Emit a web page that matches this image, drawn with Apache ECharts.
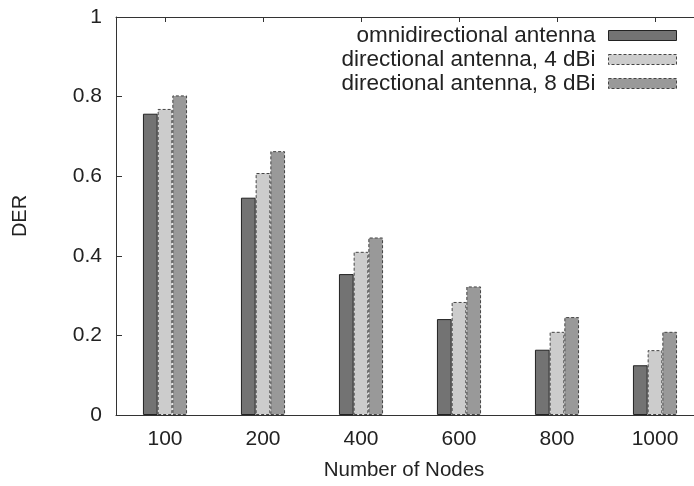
<!DOCTYPE html>
<html>
<head>
<meta charset="utf-8">
<script src="https://cdn.jsdelivr.net/npm/echarts@6/dist/echarts.min.js"></script>
<style>html,body{margin:0;padding:0;background:#fff;overflow:hidden;width:694px;height:486px;}#c{width:704px;height:486px;}</style>
</head>
<body>
<div id="c"></div>
<script>
var categories = ['100', '200', '400', '600', '800', '1000'];
var omni = [0.757, 0.546, 0.354, 0.241, 0.164, 0.125];
var dir4 = [0.769, 0.608, 0.410, 0.284, 0.209, 0.163];
var dir8 = [0.803, 0.663, 0.446, 0.323, 0.246, 0.209];
var seriesNames = ['omnidirectional antenna', 'directional antenna, 4 dBi', 'directional antenna, 8 dBi'];
var seriesColors = ['#737373', '#cccccc', '#999999'];
var yTicks = [0, 0.2, 0.4, 0.6, 0.8, 1];

var FONT = 'Liberation Sans';
var chart = echarts.init(document.getElementById('c'), null, {renderer: 'canvas'});
function style(i) {
  var dashed = i > 0;
  return {color: seriesColors[i], borderColor: dashed ? '#444' : '#222', borderWidth: 1, borderType: dashed ? [3, 2] : 'solid'};
}
function mk(i, data) {
  return {
    name: seriesNames[i], type: 'bar', data: data, barWidth: 14.7, barGap: '0%',
    itemStyle: style(i),
    emphasis: {disabled: true}
  };
}
chart.setOption({
  animation: false,
  textStyle: {fontFamily: FONT},
  grid: {left: 116, right: 0, top: 17, bottom: 68, show: false, containLabel: false},
  legend: {
    data: seriesNames.map(function (n, i) { return {name: n, icon: 'rect', itemStyle: style(i)}; }),
    orient: 'vertical', right: 27, top: 24, padding: 0, itemGap: 1,
    itemWidth: 68, itemHeight: 10, align: 'right', selectedMode: false,
    textStyle: {fontFamily: FONT, fontSize: 22.5, color: '#222', lineHeight: 20, padding: [0, 8, 0, 0]}
  },
  xAxis: [{
    type: 'category', data: categories, position: 'bottom',
    name: 'Number of Nodes', nameLocation: 'middle', nameGap: 45,
    nameTextStyle: {fontFamily: FONT, fontSize: 20.5, color: '#222', padding: [0, 12, 0, 0]},
    axisLine: {show: true, lineStyle: {color: '#333'}},
    axisTick: {show: false},
    axisLabel: {fontFamily: FONT, fontSize: 21, color: '#222', margin: 14}
  }, {
    type: 'category', data: categories, position: 'top',
    axisLine: {show: true, lineStyle: {color: '#333'}},
    axisTick: {show: true, inside: true, length: 5, alignWithLabel: true, lineStyle: {color: '#333'}},
    axisLabel: {show: false}
  }],
  yAxis: {
    type: 'value', min: 0, max: 1, interval: 0.2,
    name: 'DER', nameLocation: 'middle', nameGap: 86,
    nameTextStyle: {fontFamily: FONT, fontSize: 20, color: '#222'},
    axisLine: {show: true, lineStyle: {color: '#333'}},
    axisTick: {show: true, inside: true, length: 6, lineStyle: {color: '#333'}},
    splitLine: {show: false},
    axisLabel: {fontFamily: FONT, fontSize: 21, color: '#222', margin: 14,
      formatter: function (v) { var r = yTicks.find(function(t){return Math.abs(t - v) < 1e-9;}); return r === undefined ? '' : String(r); }}
  },
  series: [mk(0, omni), mk(1, dir4), mk(2, dir8)]
});
</script>
</body>
</html>
